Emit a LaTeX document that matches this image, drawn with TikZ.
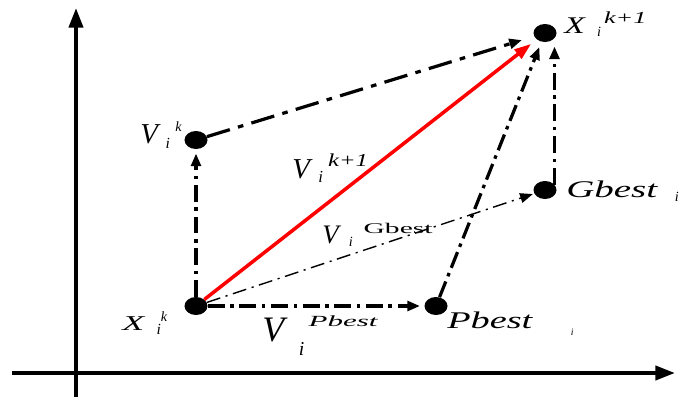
\documentclass[tikz,border=0pt]{standalone}
\usepackage{graphicx}
\usepackage{fontspec}
\setmainfont{Liberation Serif}
\usetikzlibrary{arrows.meta,shapes.geometric,positioning}

% font size, horizontal stretch
\newcommand{\fs}[1]{\fontsize{#1}{#1}\selectfont}
\newcommand{\sx}[2]{\scalebox{#1}[1]{#2}}
% label: base, sub, sup, sup rise, sub drop, sup kern
\newcommand{\lab}[6]{#1\rlap{\kern#6\raisebox{#4}{#3}}\raisebox{-#5}{#2}}

\begin{document}
\begin{tikzpicture}[x=0.025cm, y=-0.025cm, >={Triangle[length=9pt,width=7pt]}]

    \tikzset{
        dot/.style={ellipse, fill=black, inner sep=0pt, minimum width=0.575cm, minimum height=0.45cm},
        dashdot/.style={line width=2.3pt, dash pattern=on 12pt off 4pt on 2.5pt off 4pt},
        longdash/.style={line width=2.3pt, dash pattern=on 17pt off 6pt on 4pt off 6pt},
        thindash/.style={line width=1pt, dash pattern=on 10pt off 4pt on 1.5pt off 4pt},
        lbl/.style={inner sep=0pt, anchor=base west}
    }
    \useasboundingbox (0,0) rectangle (691,410);

    % 1. Axes
    \coordinate (xs) at (12,373);
    \coordinate (xe) at (675,373);
    \coordinate (ys) at (76,397);
    \coordinate (ye) at (76,8);
    \draw[line width=2.8pt, -{Triangle[length=14pt,width=10pt]}] (xs) -- (xe);
    \draw[line width=2.8pt, -{Triangle[length=14pt,width=10pt]}] (ys) -- (ye);

    % 2. Points
    \node[dot] (xk)  at (196,306) {};
    \node[dot] (vk)  at (196,140) {};
    \node[dot] (xk1) at (545,33)  {};
    \node[dot] (gb)  at (545,190) {};
    \node[dot] (pb)  at (436,306) {};

    % 3. Velocity components
    \draw[dashdot, ->, shorten >=3pt] (xk) -- (vk);
    \draw[longdash, ->, shorten >=9pt] (vk) -- (xk1);
    \draw[dashdot, ->, shorten >=3pt] (xk) -- (pb);
    \draw[thindash, ->, shorten >=1pt] (xk) -- (gb);
    \draw[dashdot, ->, shorten >=4pt] (pb) -- (xk1);
    \draw[dashdot, ->, shorten >=3pt] (gb.30) -- (gb.30 |- xk1.south);

    % 4. New velocity
    \draw[red, line width=2.5pt, -{Triangle[length=12pt,width=8pt]}, shorten >=5pt] (xk) -- (xk1);

    % 5. Labels
    \node[lbl] (lxk) at (122,330)
        {\lab{\fs{15}\sx{1.7}{\textit{X}}}{\kern8pt\fs{11}\textit{i}}{\fs{10}\textit{k}}{6pt}{3.5pt}{11pt}};
    \node[lbl] (lvk) at (140,143)
        {\lab{\fs{20.5}\textit{V}}{\kern3.5pt\fs{11}\textit{i}}{\fs{10}\textit{k}}{8pt}{4pt}{10.5pt}};
    \node[lbl] (lxk1) at (564,33)
        {\lab{\fs{17}\sx{1.4}{\textit{X}}}{\kern8pt\fs{10}\textit{i}}{\fs{12}\sx{1.55}{\textit{k+1}}}{7pt}{2.8pt}{13pt}};
    \node[lbl] (lv1) at (292,178)
        {\lab{\fs{20.5}\textit{V}}{\kern4pt\fs{12}\textit{i}}{\fs{13}\sx{1.35}{\textit{k+1}}}{8pt}{3.5pt}{11pt}};
    \node[lbl] (lvg) at (322,243)
        {\lab{\fs{19}\textit{V}}{\kern5.5pt\fs{10}\textit{i}}{\fs{10.5}\sx{2}{Gbest}}{7pt}{2.8pt}{16pt}};
    \node[lbl] (lvp) at (262,341)
        {\lab{\fs{25.5}\textit{V}}{\kern8pt\fs{14}\textit{i}}{\fs{11}\sx{2}{\textit{Pbest}}}{10pt}{10pt}{15pt}};
    \node[lbl] (lpb) at (447,328)
        {\lab{\fs{17}\sx{1.6}{\textit{Pbest}}}{\kern27pt\fs{7}\textit{i}}{}{0pt}{5pt}{0pt}};
    \node[lbl] (lgb) at (566,197)
        {\lab{\fs{17}\sx{1.63}{\textit{Gbest}}}{\kern12pt\fs{10}\textit{i}}{}{0pt}{3.5pt}{0pt}};

\end{tikzpicture}
\end{document}
